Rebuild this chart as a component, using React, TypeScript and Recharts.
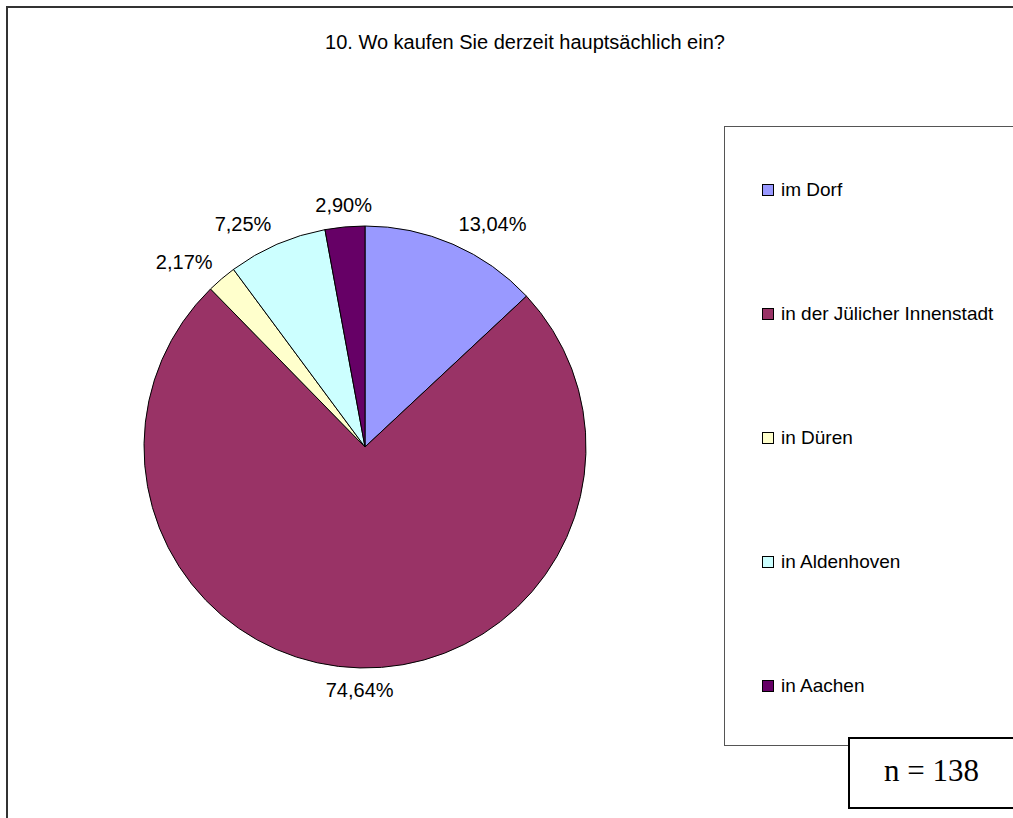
import React from "react";
import { PieChart, Pie, Cell, Legend } from "recharts";

const categories = ["im Dorf", "in der Jülicher Innenstadt", "in Düren", "in Aldenhoven", "in Aachen"];
const counts = [18, 103, 3, 10, 4];
const percentLabels = ["13,04%", "74,64%", "2,17%", "7,25%", "2,90%"];
const colors = ["#9999FF", "#993366", "#FFFFCC", "#CCFFFF", "#660066"];

const data = categories.map((name, i) => ({ name, value: counts[i], label: percentLabels[i] }));

const FONT = "'Liberation Sans', Arial, Helvetica, sans-serif";
const RAD = Math.PI / 180;

function renderLabel(props: any) {
  const { cx, cy, midAngle, outerRadius, index } = props;
  const r = outerRadius + 14;
  const cos = Math.cos(-midAngle * RAD);
  const sin = Math.sin(-midAngle * RAD);
  const x = cx + r * cos;
  const y = cy + r * sin;
  const anchor = cos > 0.2 ? "start" : cos < -0.2 ? "end" : "middle";
  return (
    <text x={x} y={y} dy={7 + sin * 8} textAnchor={anchor} fontSize={20} fontFamily={FONT} fill="#000">
      {percentLabels[index]}
    </text>
  );
}

function renderLegend() {
  return (
    <div style={{ fontFamily: FONT, fontSize: 19, color: "#000" }}>
      {categories.map((c, i) => (
        <div
          key={c}
          style={{
            position: "absolute",
            left: 37,
            top: 51 + i * 124,
            display: "flex",
            alignItems: "center",
            whiteSpace: "nowrap",
            lineHeight: "24px",
          }}
        >
          <span
            style={{
              display: "inline-block",
              width: 10,
              height: 10,
              background: colors[i],
              border: "1px solid #000",
              marginRight: 7,
            }}
          />
          {c}
        </div>
      ))}
    </div>
  );
}

export default function App() {
  return (
    <div style={{ position: "absolute", left: 0, top: 0, width: 1013, height: 818, background: "#fff" }}>
      {/* frame: only the left and top edges are visible in the picture */}
      <div style={{ position: "absolute", left: 6, top: 6, width: 2, height: 812, background: "#333" }} />
      <div style={{ position: "absolute", left: 6, top: 6, width: 1007, height: 2, background: "#333" }} />
      <div
        style={{
          position: "absolute",
          left: 0,
          top: 30,
          width: 1013,
          paddingLeft: 37,
          boxSizing: "border-box",
          textAlign: "center",
          fontFamily: FONT,
          fontSize: 20,
          lineHeight: "24px",
          color: "#000",
        }}
      >
        10. Wo kaufen Sie derzeit hauptsächlich ein?
      </div>
      <div style={{ position: "absolute", left: 0, top: 0 }}>
        <PieChart width={720} height={730} margin={{ top: 0, right: 0, bottom: 0, left: 0 }}>
          <Pie
            data={data}
            dataKey="value"
            nameKey="name"
            cx={365}
            cy={447}
            outerRadius={221}
            startAngle={90}
            endAngle={-270}
            stroke="#000"
            strokeWidth={1}
            label={renderLabel}
            labelLine={false}
            isAnimationActive={false}
          >
            {data.map((d, i) => (
              <Cell key={d.name} fill={colors[i]} />
            ))}
          </Pie>
          <Legend
            content={renderLegend}
            wrapperStyle={{
              position: "absolute",
              left: 724,
              top: 126,
              width: 289,
              height: 620,
              borderLeft: "1px solid #555",
              borderTop: "1px solid #555",
              borderBottom: "1px solid #555",
              background: "#fff",
              boxSizing: "border-box",
            }}
          />
        </PieChart>
      </div>
      <div
        style={{
          position: "absolute",
          left: 848,
          top: 737,
          width: 165,
          height: 72,
          borderLeft: "2px solid #000",
          borderTop: "2px solid #000",
          borderBottom: "2px solid #000",
          boxSizing: "border-box",
          background: "#fff",
          fontFamily: "'Liberation Serif', 'Times New Roman', serif",
          fontSize: 31,
        }}
      >
        <div style={{ position: "absolute", left: 34, top: 14, whiteSpace: "nowrap" }}>n = 138</div>
      </div>
    </div>
  );
}
